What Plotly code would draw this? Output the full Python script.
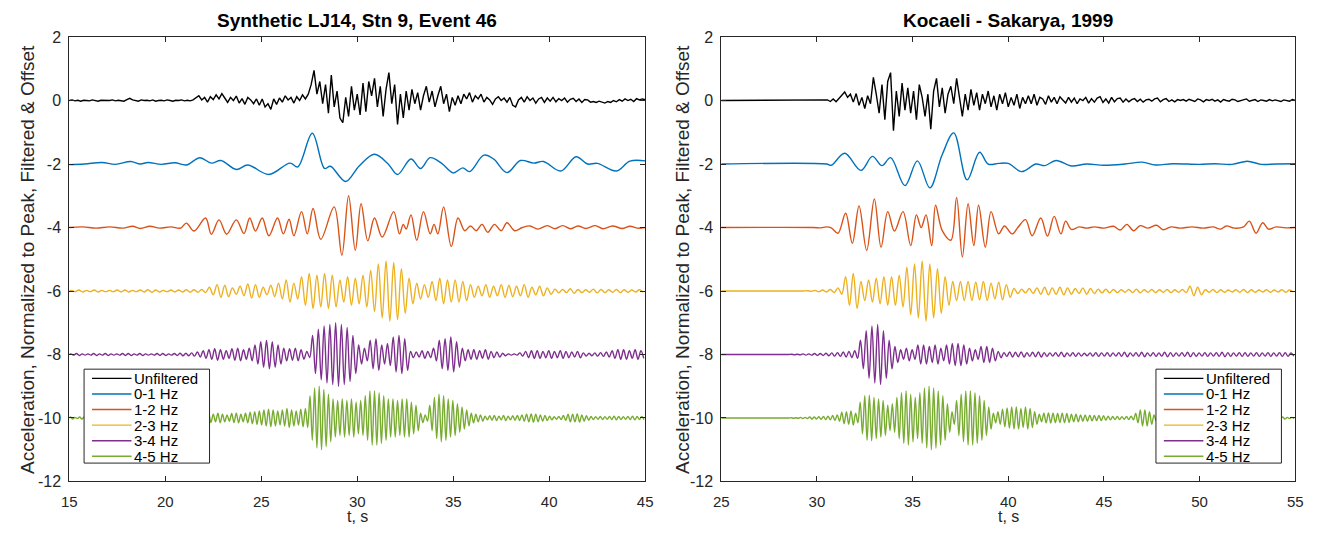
import numpy as np
import plotly.graph_objects as go

NAMES = ["Unfiltered", "0-1 Hz", "1-2 Hz", "2-3 Hz", "3-4 Hz", "4-5 Hz"]
OFFSETS = [0, -2, -4, -6, -8, -10]
COLORS = ["#000000", "#0072BD", "#D95319", "#EDB120", "#7E2F8E", "#77AC30"]
Y_TICKS = [-12, -10, -8, -6, -4, -2, 0, 2]
Y_TICK_TEXT = ["-12", "-10", "-8", "-6", "-4", "-2", "0", "2"]
L_X_TICKS = [15, 20, 25, 30, 35, 40, 45]
R_X_TICKS = [25, 30, 35, 40, 45, 50, 55]
TITLE_L = "Synthetic LJ14, Stn 9, Event 46"
TITLE_R = "Kocaeli - Sakarya, 1999"
Y_TITLE = "Acceleration, Normalized to Peak, Filtered & Offset"
X_TITLE = "t, s"

# ---------------- LEFT PANEL (synthetic) ----------------
L_T0 = 15.0
L_UNF_DT = 0.15
L_UNF = [0, 0.02, -0.01, 0.01, -0.02, 0.01, 0, -0.01, 0.02, 0, -0.02, 0.01, 0.01, -0.01, 0, 0.02, -0.01, 0.01, 0, -0.02,
         0.03, 0.07, 0.02,
         0.01, -0.02, 0.02, 0, 0.01, -0.01, 0.02, -0.02, 0, 0.01, -0.01, 0.02, 0, -0.02, 0.01, 0, 0.02, -0.01, 0.01, -0.01, 0.02,
         0.08, 0.15, 0.02, 0.1, -0.05, 0.12, 0.03, 0.18, 0.05, 0.22, 0.08, -0.06, 0.1, 0.0, 0.14, -0.08, 0.06, -0.12, 0.1, 0.02, -0.1, 0.05, -0.15,
         0.05, -0.2, -0.1, -0.28, 0.05, -0.12, 0.08, -0.05, 0.15, 0.02, 0.1, -0.08, 0.12, 0.0, 0.18, 0.05, 0.2,
         0.5, 0.95, 0.2, 0.6, -0.1, 0.5, -0.4, 0.8, -0.2, 0.3, -0.55, -0.7, 0.1, -0.5, 0.45, -0.3, 0.2, -0.45, 0.55, -0.35,
         0.6, 0.15, 0.7, -0.2, 0.45, -0.5, 0.35, 0.88, -0.1, 0.5, -0.75, 0.2, -0.55, 0.3, -0.3, 0.35, -0.1, 0.25, -0.3, 0.15,
         0.45, -0.05, 0.3, -0.2, 0.15, 0.45, -0.1, 0.2, -0.35, 0.1, -0.15, 0.15, -0.1, 0.2, 0.05, 0.25, -0.05, 0.15, 0.05, 0.2,
         -0.05, 0.1, 0.02, -0.12, 0.05, 0.12, 0.0,
         0.08, -0.05, 0.1, -0.15, -0.2, 0.02, 0.1, -0.05, 0.12, 0.0, 0.08, -0.08, 0.05, 0.1, -0.06, 0.08, -0.02, 0.1, -0.04, 0.06,
         0.0, 0.08, -0.05, 0.04, 0.07, -0.03, 0.05, -0.06, 0.03, 0.02, -0.05, -0.03, -0.06, -0.02, -0.05, -0.08, -0.03, -0.06, 0.0, -0.04,
         0.03, -0.02, 0.05, 0.0, 0.04, -0.03, 0.06, 0.02, 0.05, 0.03]

L_B01_T = [15.0, 15.8, 16.7, 17.4, 18.2, 18.7, 19.1, 19.8, 20.5, 21.1, 21.8, 22.4, 22.9, 23.7, 24.3, 25.4, 26.5, 26.9,
           27.66, 28.3, 28.6, 29.4, 30.1, 30.9, 31.6, 32.1, 32.8, 33.3, 33.8, 34.4, 35.0, 35.5, 35.85, 36.6, 37.1, 37.8,
           38.5, 39.2, 39.7, 40.6, 41.4, 42.0, 42.5, 43.5, 44.2, 45.0]
L_B01_V = [-0.02, 0.0, 0.05, -0.01, 0.08, 0.0, 0.05, -0.01, 0.04, -0.03, 0.2, 0.03, 0.11, -0.17, -0.03, -0.33, 0.03, -0.09,
           0.97, -0.14, -0.07, -0.55, -0.06, 0.31, 0.01, -0.33, 0.16, -0.14, 0.2, 0.02, -0.28, -0.12, -0.24, 0.28, 0.16, -0.27,
           0.11, 0.03, 0.08, -0.22, 0.23, 0.0, 0.02, -0.22, 0.09, 0.1]

L_B12_T = [15.0, 15.7, 16.4, 17.1, 17.8, 18.3, 18.7, 19.2, 19.7, 20.3, 20.8, 21.1, 21.5, 22.1, 22.4, 22.8, 23.2, 23.7,
           24.1, 24.4, 24.7, 25.05, 25.4, 25.85, 26.15, 26.45, 26.7, 27.1, 27.4, 27.7, 28.1, 28.8, 29.2, 29.55, 29.9, 30.2,
           30.55, 30.9, 31.3, 31.9, 32.2, 32.4, 32.55, 32.8, 33.1, 33.45, 33.8, 34.0, 34.2, 34.5, 34.9, 35.25, 35.6, 35.9,
           36.2, 36.5, 36.8, 37.15, 37.5, 37.8, 38.2, 38.6, 39.0, 39.4, 39.9, 40.3, 40.7, 41.1, 41.5, 41.9, 42.4, 42.8,
           43.3, 43.8, 44.2, 44.6, 45.0]
L_B12_V = [0.0, 0.02, -0.02, 0.02, -0.02, 0.04, -0.03, 0.04, -0.02, 0.02, -0.02, 0.14, -0.11, 0.3, -0.21, 0.24, -0.21, 0.24,
           -0.19, 0.3, -0.11, 0.3, -0.26, 0.3, -0.2, 0.26, -0.26, 0.5, -0.2, 0.6, -0.37, 0.65, -0.87, 1.0, -0.72, 0.75,
           -0.42, 0.3, -0.3, 0.5, -0.2, 0.1, -0.05, 0.4, -0.4, 0.5, -0.2, 0.1, -0.2, 0.65, -0.6, 0.3, -0.1, 0.05,
           -0.1, 0.1, -0.15, 0.1, -0.1, 0.15, -0.1, 0.0, 0.05, -0.05, 0.06, -0.04, 0.06, -0.04, 0.05, -0.03, 0.06, -0.04,
           0.05, -0.03, 0.04, -0.02, 0.0]

L_B23_P = 0.4
L_B23_A = [0.02, 0.03, 0.02, 0.03, 0.02, 0.02, 0.03, 0.03, 0.02, 0.03, 0.04, 0.03, 0.02, 0.03, 0.03, 0.04, 0.04, 0.05,
           0.12, 0.2, 0.18, 0.1, 0.15, 0.22, 0.2, 0.12, 0.18, 0.25,
           0.35, 0.25, 0.45, 0.55, 0.5,
           0.55, 0.5, 0.35, 0.45, 0.4,
           0.5, 0.65, 0.85, 0.95, 0.9, 0.7, 0.4,
           0.25, 0.2, 0.3, 0.4, 0.35,
           0.35, 0.3, 0.2, 0.15, 0.2, 0.15, 0.2,
           0.18, 0.15, 0.2, 0.12, 0.15, 0.1,
           0.06, 0.05, 0.07, 0.05, 0.04, 0.06, 0.05, 0.04, 0.05, 0.04, 0.03, 0.04]

L_B34_P = 0.3
L_B34_A = [0.02, 0.03, 0.02, 0.02, 0.03, 0.02, 0.03, 0.02, 0.02, 0.03, 0.03, 0.02, 0.03, 0.02, 0.02, 0.03, 0.03, 0.02, 0.03, 0.04, 0.04, 0.05,
           0.08, 0.12, 0.15, 0.18, 0.15, 0.12, 0.18, 0.2, 0.15, 0.2, 0.3,
           0.4, 0.45, 0.4, 0.3,
           0.2, 0.18, 0.2, 0.15, 0.1,
           0.6, 0.8, 0.9, 0.95, 1.0, 0.95, 0.85, 0.6, 0.3,
           0.2, 0.45, 0.5,
           0.3, 0.35,
           0.55, 0.6, 0.5,
           0.1, 0.08, 0.12, 0.1, 0.2,
           0.45, 0.5, 0.55, 0.4, 0.2,
           0.15, 0.15, 0.12, 0.15, 0.1, 0.08, 0.04,
           0.02, 0.02, 0.05,
           0.1, 0.12, 0.12, 0.1, 0.12, 0.1, 0.12, 0.1, 0.08, 0.1,
           0.05, 0.04, 0.05, 0.06, 0.08,
           0.12, 0.15, 0.15, 0.12, 0.15, 0.12]

L_B45_P = 0.24
L_B45_A = [0.03, 0.02, 0.03, 0.03, 0.02, 0.03, 0.02, 0.03, 0.03, 0.02, 0.03, 0.02, 0.03, 0.03, 0.02, 0.03, 0.03, 0.02, 0.03, 0.03, 0.04, 0.03, 0.04, 0.04, 0.05, 0.05,
           0.08, 0.1, 0.12, 0.1, 0.14, 0.12, 0.15, 0.12, 0.1, 0.14, 0.15, 0.12, 0.15, 0.18, 0.2,
           0.22, 0.25, 0.28, 0.25, 0.22, 0.25, 0.3, 0.25, 0.22, 0.28, 0.3,
           0.7, 0.95, 1.0, 0.9, 0.75,
           0.6, 0.55, 0.6, 0.55, 0.6, 0.5, 0.55,
           0.7, 0.85, 0.85, 0.8, 0.7,
           0.6, 0.6, 0.55, 0.6, 0.6, 0.5, 0.4,
           0.15, 0.1,
           0.4, 0.65, 0.75, 0.7, 0.6, 0.55, 0.45,
           0.35, 0.25, 0.15, 0.12, 0.1,
           0.06, 0.07, 0.08, 0.06, 0.08, 0.06, 0.07, 0.08,
           0.1, 0.12, 0.13, 0.12, 0.1, 0.08, 0.06,
           0.04, 0.05,
           0.08, 0.12, 0.12, 0.13, 0.1, 0.07,
           0.05, 0.04, 0.05, 0.04, 0.05, 0.06, 0.05, 0.04, 0.05, 0.06, 0.05, 0.05]

# ---------------- RIGHT PANEL (Kocaeli - Sakarya) ----------------
R_T0 = 25.0
R_UNF_DT = 0.15
R_UNF = [0] * 37 + \
        [0.02, -0.03, 0.05, -0.04, 0.06,
         0.15, 0.27, 0.1, 0.2, -0.05, 0.22, -0.15, 0.1, -0.25, 0.15, -0.1,
         0.73, 0.2, -0.4, 0.5, -0.6, 0.6, 0.88,
         -0.95,
         0.3, -0.5, 0.55, -0.3, 0.4, -0.4,
         0.3, -0.6, 0.5, 0.1, -0.5, 0.2, -0.9,
         0.3, 0.7, -0.2, 0.4, -0.4, 0.2, 0.45, -0.1, 0.7, 0.1,
         -0.5, 0.2, -0.3, 0.35, -0.15, 0.25, -0.3, 0.2, -0.1,
         0.3, -0.2, 0.15, -0.3, 0.2, -0.1, 0.25, -0.2, 0.1, -0.15, 0.2, -0.25, 0.1, -0.1,
         0.15, -0.1, 0.2, -0.15, 0.1, 0.05, -0.12, 0.15, -0.05, 0.1, -0.1, 0.12, 0.02, -0.08,
         0.1, -0.05, 0.08, -0.1, 0.05, 0.0, 0.1, -0.08, 0.06, -0.05, 0.08, 0.12, -0.06, 0.05, -0.08, 0.1, -0.04, 0.06, 0.08, -0.05,
         0.05, -0.04, 0.03, 0.06, -0.03, 0.04, -0.05, 0.02, 0.04, -0.02, 0.05, 0.08, -0.04, 0.03, 0.06, -0.03, 0.02, -0.04, 0.03, 0.0,
         0.03, -0.02, 0.04, 0.0, -0.03, 0.05, 0.02, -0.04, 0.03, 0.0, 0.04, -0.02, 0.02, -0.05, 0.03, 0.0, -0.02, 0.04, 0.02, -0.03,
         0.0, 0.02, 0.05, -0.02, 0.0, 0.03, -0.03, 0.02, 0.0, -0.02, 0.03, -0.01, 0.02, 0.0, -0.03, 0.02, 0.01, -0.02, 0.03, 0.0]

R_B01_T = [25.0, 30.5, 30.75, 31.45, 32.3, 32.9, 33.4, 33.85, 34.6, 35.25, 35.9, 36.55, 37.15, 37.85, 38.5, 38.95, 39.5,
           40.0, 40.7, 41.45, 41.9, 42.5, 43.3, 44.1, 45.0, 46.1, 47.0, 47.7, 48.6, 50.0, 50.8, 51.7, 52.5, 53.2, 54.0, 55.0]
R_B01_V = [0.0, 0.0, -0.04, 0.34, -0.2, 0.24, -0.05, 0.2, -0.68, 0.1, -0.75, 0.3, 0.98, -0.5, 0.37, 0.0, 0.02,
           0.02, -0.24, 0.0, -0.05, 0.11, -0.06, 0.0, -0.04, 0.0, 0.06, -0.03, 0.01, -0.01, 0.01, -0.01, 0.09, -0.01, 0.0, 0.01]

R_B12_T = [25.0, 29.8, 30.2, 30.5, 30.75, 31.1, 31.5, 31.85, 32.2, 32.6, 33.0, 33.35, 33.7, 34.05, 34.5, 34.9, 35.2,
           35.45, 35.7, 36.0, 36.2, 36.55, 37.0, 37.3, 37.6, 37.9, 38.2, 38.45, 38.8, 39.1, 39.5, 39.8, 40.2, 40.5,
           40.9, 41.25, 41.7, 42.05, 42.4, 42.75, 43.0, 43.3, 43.7, 44.1, 44.5, 45.0, 45.5, 45.85, 46.2, 46.55, 46.9,
           47.3, 47.75, 48.1, 48.5, 49.0, 49.6, 50.2, 50.7, 51.1, 51.4, 51.8, 52.3, 52.6, 52.95, 53.3, 53.6, 54.0,
           54.5, 55.0]
R_B12_V = [0.0, 0.0, -0.01, 0.02, -0.01, -0.18, 0.45, -0.5, 0.68, -0.72, 0.9, -0.62, 0.5, -0.11, 0.5, -0.57, 0.4,
           0.0, 0.4, -0.57, 0.7, -0.1, -0.4, 0.95, -0.93, 0.75, -0.57, 0.7, -0.62, 0.5, -0.2, 0.05, -0.2, 0.0,
           0.25, -0.26, 0.3, -0.27, 0.35, -0.2, 0.2, -0.06, 0.02, -0.02, 0.02, -0.02, 0.04, -0.08, 0.1, -0.1, 0.06,
           -0.02, 0.07, -0.07, 0.02, -0.02, 0.02, -0.02, 0.02, -0.05, 0.05, -0.02, 0.02, 0.2, -0.18, 0.15, -0.05, 0.02,
           -0.01, 0.0]

R_B23_P = 0.4
R_B23_A = [0, 0, 0, 0, 0, 0, 0, 0, 0, 0, 0, 0.01,
           0.02, 0.03, 0.05, 0.1,
           0.45, 0.55, 0.3, 0.35, 0.4,
           0.45, 0.45, 0.5,
           0.75, 0.85, 0.95, 0.85, 0.7,
           0.45, 0.3,
           0.3, 0.3, 0.28, 0.3, 0.25, 0.28, 0.2,
           0.08, 0.06, 0.08,
           0.1, 0.12, 0.1, 0.12, 0.1, 0.08, 0.1, 0.08, 0.06, 0.06,
           0.05, 0.04, 0.05, 0.06, 0.04, 0.05, 0.04, 0.05, 0.04, 0.05,
           0.15, 0.12,
           0.04, 0.05, 0.04, 0.03, 0.04, 0.05, 0.04, 0.03, 0.04, 0.03, 0.04, 0.03]

R_B34_P = 0.3
R_B34_A = [0, 0, 0, 0, 0, 0, 0, 0, 0, 0, 0, 0, 0.01, 0.01,
           0.02, 0.02, 0.03, 0.03, 0.04, 0.05, 0.06, 0.08, 0.1, 0.12,
           0.45, 0.75, 0.9, 0.95, 0.75, 0.45,
           0.25, 0.15, 0.2, 0.15,
           0.3, 0.3, 0.25, 0.3, 0.2,
           0.3, 0.35, 0.35, 0.3, 0.2,
           0.15, 0.25, 0.25, 0.2, 0.1,
           0.06, 0.08, 0.07, 0.08, 0.06, 0.07, 0.08, 0.06, 0.05, 0.06, 0.07, 0.05, 0.06, 0.05, 0.04, 0.05, 0.06, 0.05,
           0.06, 0.05, 0.06, 0.07, 0.05, 0.06, 0.07, 0.05, 0.06, 0.05, 0.07, 0.06, 0.05, 0.06, 0.07, 0.06, 0.05,
           0.06, 0.05, 0.06, 0.07, 0.06, 0.05, 0.06, 0.06, 0.05, 0.06, 0.05, 0.06, 0.05, 0.06, 0.06, 0.05]

R_B45_P = 0.24
R_B45_A = [0, 0, 0, 0, 0, 0, 0, 0, 0, 0, 0, 0, 0, 0, 0, 0.01, 0.01, 0.02, 0.02,
           0.03, 0.03, 0.04, 0.05, 0.06, 0.08, 0.1,
           0.18, 0.2, 0.22, 0.15,
           0.5, 0.7, 0.72, 0.65, 0.6, 0.55, 0.4,
           0.45,
           0.65, 0.8, 0.85, 0.75, 0.65,
           0.8, 0.95, 1.0, 0.95, 0.85, 0.7, 0.45,
           0.2,
           0.55, 0.75, 0.85, 0.85, 0.8, 0.7, 0.55, 0.35,
           0.15,
           0.2, 0.28, 0.32, 0.35, 0.35, 0.3, 0.35, 0.3, 0.2,
           0.12, 0.15, 0.16, 0.15, 0.14, 0.15, 0.14, 0.12, 0.12, 0.1, 0.1, 0.09, 0.08, 0.08, 0.07, 0.06,
           0.05, 0.05, 0.04, 0.05, 0.06,
           0.15, 0.25, 0.25, 0.2,
           0.1, 0.05, 0.03, 0.02, 0.03, 0.02, 0.02, 0.03, 0.02, 0.02, 0.03, 0.02, 0.02, 0.03, 0.02, 0.02,
           0.03, 0.02, 0.02, 0.03, 0.02, 0.02, 0.03, 0.02, 0.02, 0.03, 0.02, 0.02, 0.03, 0.02, 0.02]


def sampled(t0, dt, vals):
    return t0 + dt * np.arange(len(vals)), np.asarray(vals, dtype=float)


def cycles(t0, period, amps):
    t = [t0]
    v = [0.0]
    for k, a in enumerate(amps):
        t += [t0 + period * (k + 0.25), t0 + period * (k + 0.75)]
        v += [a, -a]
    return np.array(t), np.array(v)


panels = {
    "L": [sampled(L_T0, L_UNF_DT, L_UNF), (np.array(L_B01_T), np.array(L_B01_V)),
          (np.array(L_B12_T), np.array(L_B12_V)), cycles(L_T0, L_B23_P, L_B23_A),
          cycles(L_T0, L_B34_P, L_B34_A), cycles(L_T0, L_B45_P, L_B45_A)],
    "R": [sampled(R_T0, R_UNF_DT, R_UNF), (np.array(R_B01_T), np.array(R_B01_V)),
          (np.array(R_B12_T), np.array(R_B12_V)), cycles(R_T0, R_B23_P, R_B23_A),
          cycles(R_T0, R_B34_P, R_B34_A), cycles(R_T0, R_B45_P, R_B45_A)],
}

FONT = "Liberation Sans, Arial, Helvetica, sans-serif"
AX_COL = "#262626"
W, H = 1324, 536

fig = go.Figure()
for key, xa, ya in [("L", "x", "y"), ("R", "x2", "y2")]:
    for i, (t, v) in enumerate(panels[key]):
        fig.add_trace(go.Scatter(
            x=t, y=v + OFFSETS[i], mode="lines", name=NAMES[i],
            line=dict(color=COLORS[i], width=1.4, shape="linear" if i == 0 else "spline"),
            xaxis=xa, yaxis=ya, showlegend=False))

xl = [62 / W, 645 / W]
xr = [722 / W, 1303 / W]
yd = [1 - 489 / H, 1 - 30 / H]

axis_common = dict(showgrid=False, zeroline=False, showline=True, linecolor=AX_COL, linewidth=1,
                   mirror="ticks", ticks="inside", ticklen=5, tickcolor=AX_COL)
xfont = dict(family=FONT, size=15, color=AX_COL)
yfont = dict(family=FONT, size=16, color=AX_COL)

fig.update_layout(
    width=W, height=H, margin=dict(l=0, r=0, t=0, b=0),
    paper_bgcolor="white", plot_bgcolor="white", showlegend=False,
    xaxis=dict(domain=xl, range=[15, 45], tickvals=L_X_TICKS, anchor="y", ticklabelstandoff=7,
               tickfont=xfont, **axis_common),
    yaxis=dict(domain=yd, range=[-12, 2], tickvals=Y_TICKS, ticktext=Y_TICK_TEXT, anchor="x",
               ticklabelstandoff=4, tickfont=yfont, **axis_common),
    xaxis2=dict(domain=xr, range=[25, 55], tickvals=R_X_TICKS, anchor="y2", ticklabelstandoff=7,
                tickfont=xfont, **axis_common),
    yaxis2=dict(domain=yd, range=[-12, 2], tickvals=Y_TICKS, ticktext=Y_TICK_TEXT, anchor="x2",
                ticklabelstandoff=4, tickfont=yfont, **axis_common),
)

ann = []
shapes = []
for xc, title in [((xl[0] + xl[1]) / 2, TITLE_L), ((xr[0] + xr[1]) / 2, TITLE_R)]:
    ann.append(dict(x=xc, y=1 - 13 / H, xref="paper", yref="paper", text="<b>" + title + "</b>",
                    showarrow=False, font=dict(family=FONT, size=19, color="#000000"),
                    xanchor="center", yanchor="middle"))
    ann.append(dict(x=xc, y=1 / H, xref="paper", yref="paper", text=X_TITLE,
                    showarrow=False, font=dict(family=FONT, size=16, color=AX_COL),
                    xanchor="center", yanchor="bottom", borderpad=0))
for xp in [20 / W, 683 / W]:
    ann.append(dict(x=xp, y=1 - 259.5 / H, xref="paper", yref="paper", text=Y_TITLE, textangle=-90,
                    showarrow=False, font=dict(family=FONT, size=19, color=AX_COL),
                    xanchor="center", yanchor="middle"))

# legends (one box per panel), drawn in paper pixels
for bx in [77, 1162]:
    top, bottom, right = 373, 470, bx + 127
    shapes.append(dict(type="rect", xref="paper", yref="paper", layer="above",
                       x0=bx / W, x1=right / W, y0=1 - bottom / H, y1=1 - top / H,
                       fillcolor="white", line=dict(color=AX_COL, width=1)))
    for j, name in enumerate(NAMES):
        yc = 382.5 + 16.1 * j
        shapes.append(dict(type="line", xref="paper", yref="paper", layer="above",
                           x0=(bx + 8) / W, x1=(bx + 48) / W, y0=1 - yc / H, y1=1 - yc / H,
                           line=dict(color=COLORS[j], width=1.4)))
        ann.append(dict(x=(bx + 50) / W, y=1 - yc / H, xref="paper", yref="paper", text=name,
                        showarrow=False, font=dict(family=FONT, size=15, color="#000000"),
                        xanchor="left", yanchor="middle", borderpad=0))

fig.update_layout(annotations=ann, shapes=shapes)

fig.write_html("out.html")
